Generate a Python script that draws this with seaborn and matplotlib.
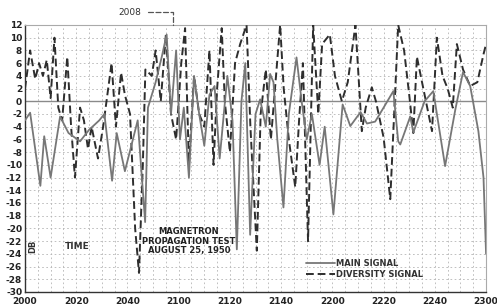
import numpy as np
import pandas as pd
import matplotlib
matplotlib.use("Agg")
import matplotlib.pyplot as plt
import seaborn as sns

# minutes after 20:00
main_t = [0, 2, 6, 7.5, 10, 13.7, 17, 21.5, 25, 29, 31, 34, 35.8, 39, 44, 46.9, 48, 51,
          53.4, 55.3, 57, 59, 60.5, 62, 64, 66, 68, 70, 72, 74, 76, 79, 81, 82.7, 84.5,
          86, 87.9, 90, 91.8, 94, 95.7, 97, 98.5, 100.9, 103, 106, 108, 110, 112, 115,
          117, 120.4, 124, 127, 131, 133.5, 136.7, 140, 143.8, 145.7, 146.5, 150.4,
          151.6, 156, 159.4, 164, 168, 171, 173.8, 177, 179, 180]
main_v = [-3, -1.8, -13.3, -5.5, -12, -2.4, -5, -6.3, -4.5, -3, -2, -12.5, -5, -11, -3,
          -19, -1, 3, 7, 10.5, -2, 8, -6, -1, -12, 4, -2, -7, 1, 2.4, -9, 4, -3, -23.3,
          0, 6, -21, -2, 0.3, -4, 4.3, 3, -6, -16.7, -2, 6.9, 0, -6, -2, -10, -4, -17.8,
          -0.5, -3.9, -1.7, -3.5, -3.2, -1, 1.6, -6.3, -6.8, -2.4, -4.9, 0, 1.6, -10.2,
          -1.3, 4.6, 2.4, -4.7, -12, -24]

div_t = [0, 2, 4, 5.5, 7, 8.5, 10, 11.5, 13, 14.5, 16.5, 18, 19.5, 21.5, 23, 24.6, 26,
         28.5, 30.5, 33.8, 35.5, 37.5, 39, 41, 43, 44.5, 46, 47, 49.5, 51, 53, 55, 57,
         59, 61, 62.5, 64, 66, 68, 70, 72, 73.6, 75, 76.8, 78, 80, 82, 84, 86.5, 88,
         90.5, 92, 94, 96, 99.6, 101, 103, 105.5, 107, 108.5, 110.5, 112.5, 114.5, 116,
         119, 121, 123.7, 126, 129, 131.5, 133, 135.4, 137, 140, 142.6, 144, 145.7, 148,
         150, 151.6, 153, 155, 158.9, 160.8, 163, 165, 167, 168.6, 171, 173.8, 176.6,
         179, 180]
div_v = [2, 8, 3.5, 6, 4, 6.5, 0.5, 10, -1, -3, 7, -4, -12, -1, -3, -7.5, -4, -9, -4, 6,
         -4, 4.5, 1, -2, -20, -27, -10, 5, 4, 8, 0, 10.5, -2, -6, 6, 11.5, -10, 4, -2, -4,
         8, -10, 2, 11.5, 0, -8, 6, 9, 12, -4, -23.5, -2, 5, -6, 12, 2, -6, -13.5, -3, 6,
         -22, 12, -2, 9, 10.5, 4, 0, 3, 12, -4.7, -1, 2.2, 0, -5.7, -15.4, -3, 12, 8, 1,
         -5, 7, 3, -4.7, 10, 4, 2, -1, 9, 5, 2.4, 3, 7.4, 9]

x_ticks = [0, 20, 40, 60, 80, 100, 120, 140, 160, 180]
x_labels = ["2000", "2020", "2040", "2100", "2120", "2140", "2200", "2220", "2240", "2300"]
y_ticks = list(range(-30, 13, 2))

df_main = pd.DataFrame({"t": main_t, "v": main_v})
df_div = pd.DataFrame({"t": div_t, "v": div_v})

sns.set_style("white")
plt.rcParams['font.family'] = ['DejaVu Sans']

fig = plt.figure(figsize=(4.97, 3.07), dpi=100)
ax = fig.add_axes([0.0503, 0.0489, 0.9277, 0.8697])

# graph-paper grid
for t in np.arange(0, 181, 5):
    ax.axvline(t, color="#b5b5b5", lw=0.6, ls=(0, (2, 3)), zorder=0)
for y in y_ticks:
    ax.axhline(y, color="#b5b5b5", lw=0.6, ls=(0, (2, 3)), zorder=0)
ax.axhline(0, color="#8a8a8a", lw=1.0, zorder=1)

sns.lineplot(data=df_div, x="t", y="v", ax=ax, color="#2e2e2e", lw=1.4,
             linestyle=(0, (4, 2)), estimator=None, label="DIVERSITY SIGNAL", zorder=3)
sns.lineplot(data=df_main, x="t", y="v", ax=ax, color="#777777", lw=1.3,
             estimator=None, label="MAIN SIGNAL", zorder=4)

ax.set_xlim(0, 180)
ax.set_ylim(-30, 12)
ax.set_xticks(x_ticks)
ax.set_xticklabels(x_labels)
ax.set_yticks(y_ticks)
ax.set_yticklabels([str(v) for v in y_ticks])
ax.tick_params(axis="both", labelsize=6.5, length=0, colors="#222222")
ax.tick_params(axis="x", pad=3.5)
ax.tick_params(axis="y", pad=2)
for lab in ax.get_xticklabels() + ax.get_yticklabels():
    lab.set_fontweight("bold")
ax.set_xlabel("")
ax.set_ylabel("")

for s in ["left", "bottom"]:
    ax.spines[s].set_color("#333333")
    ax.spines[s].set_linewidth(1.0)
ax.spines["top"].set_color("#aaaaaa")
ax.spines["top"].set_linewidth(0.8)
ax.spines["right"].set_color("#aaaaaa")
ax.spines["right"].set_linewidth(0.8)

# legend (main first)
h, l = ax.get_legend_handles_labels()
leg = ax.legend(h[::-1], l[::-1], loc="lower left", bbox_to_anchor=(0.61, 0.05),
                frameon=False, fontsize=6, handlelength=3.4, handletextpad=0.2,
                labelspacing=0.15, borderpad=0, borderaxespad=0)
for txt in leg.get_texts():
    txt.set_fontweight("bold")
    txt.set_color("#333333")

# annotations
ax.text(3.2, -22.8, "DB", rotation=90, fontsize=6, fontweight="bold",
        ha="center", va="center", color="#333333")
ax.text(20.5, -22.8, "TIME", fontsize=6.5, fontweight="bold",
        ha="center", va="center", color="#333333")
ax.text(64, -22, "MAGNETRON\nPROPAGATION TEST\nAUGUST 25, 1950", fontsize=6,
        fontweight="bold", ha="center", va="center", color="#222222",
        linespacing=1.05, zorder=5)
ax.annotate("2008", xy=(57.8, 12), xytext=(41, 14.0), fontsize=6.5,
            ha="center", va="center", color="#333333", annotation_clip=False,
            arrowprops=dict(arrowstyle="-", color="#555555", lw=0.9, ls=(0, (4, 2)),
                            connectionstyle="angle,angleA=0,angleB=90,rad=0",
                            shrinkA=2, shrinkB=0))

fig.savefig("out.png", dpi=100)
